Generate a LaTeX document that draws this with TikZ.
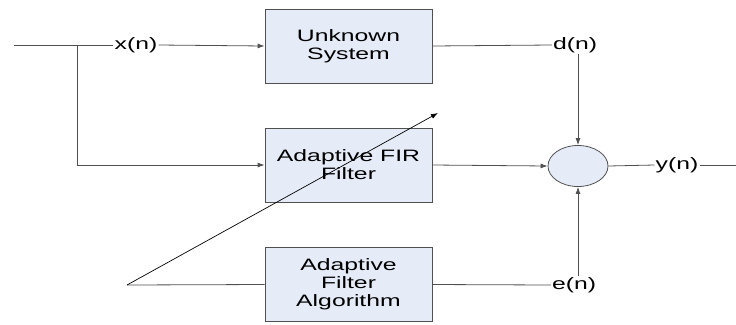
\documentclass[tikz,border=0pt]{standalone}
\usepackage{fontspec}
\setmainfont{Liberation Sans}[FakeStretch=1.5]
\usetikzlibrary{arrows.meta,shapes.geometric}
\definecolor{boxfill}{RGB}{230,236,247}
\definecolor{lin}{RGB}{80,80,80}
\begin{document}
\begin{tikzpicture}[x=1bp,y=-1bp,
  every node/.style={font=\fontsize{16.5bp}{18bp}\selectfont},
  blk/.style={draw=lin,fill=boxfill,minimum width=167bp,minimum height=74bp,align=center,inner sep=0pt,line width=0.8pt},
  sig/.style={inner sep=1bp},
  wire/.style={draw=lin,line width=0.8pt},
  arr/.style={wire,-{Latex[length=7bp,width=5bp]}}]
\useasboundingbox (0,0) rectangle (736,324);
\node[blk] (us) at (348.5,46) {Unknown\\System};
\node[blk] (fir) at (348.5,165) {Adaptive FIR\\Filter};
\node[blk] (alg) at (348.5,284.5) {Adaptive\\Filter\\Algorithm};
\node[draw=lin,fill=boxfill,ellipse,minimum width=60bp,minimum height=41bp,inner sep=0pt,line width=0.8pt] (sum) at (578,166) {};
\node[sig] (xn) at (136,45) {x(n)};
\node[sig] (dn) at (575,45) {d(n)};
\node[sig] (yn) at (677,165) {y(n)};
\node[sig] (en) at (574,285) {e(n)};
\coordinate (in) at (14,45);
\coordinate (br) at (77,45);
\coordinate (out) at (736,165);
\coordinate (tw) at (127,285);
\coordinate (tip) at (438,113);
\draw[wire] (in) -- (xn.west);
\draw[arr] (xn.east) -- (us.west);
\draw[arr] (br) |- (fir.west);
\draw[wire] (us.east) -- (dn.west);
\draw[arr] (sum |- dn.south) -- (sum.north);
\draw[arr] (fir.east) -- (sum.west);
\draw[wire] (sum.east) -- (yn.west);
\draw[wire] (yn.east) -- (out);
\draw[arr] (sum |- en.north) -- (sum.south);
\draw[wire] (alg.east) -- (en.west);
\draw[wire] (alg.west) -- (tw);
\draw[draw=black,line width=0.7pt,-{Latex[length=7bp,width=5bp]}] (tw) -- (tip);
\end{tikzpicture}
\end{document}
